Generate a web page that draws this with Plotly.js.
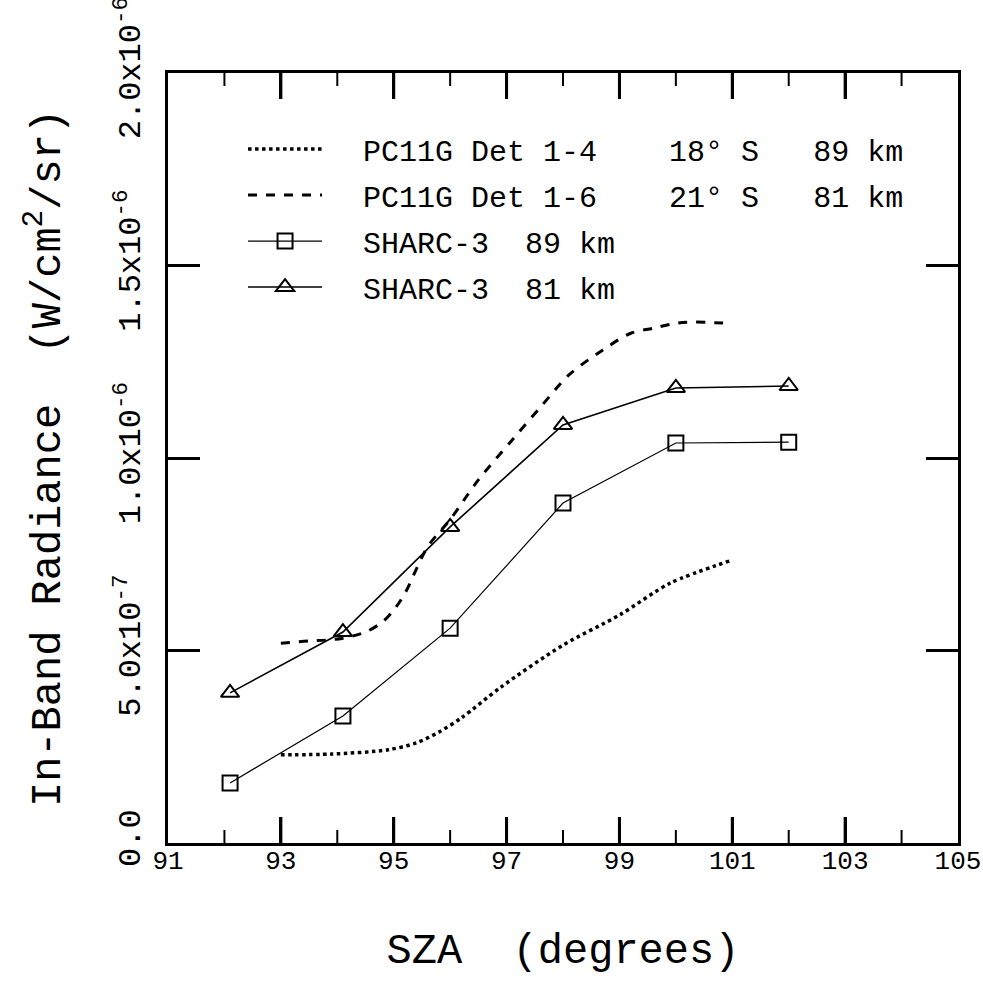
<!DOCTYPE html>
<html>
<head>
<meta charset="utf-8">
<script src="https://cdn.plot.ly/plotly-3.0.1.min.js"></script>
<style>html,body{margin:0;padding:0;background:#fff;}#chart{width:983px;height:1005px;}</style>
</head>
<body>
<div id="chart"></div>
<script>
// ---- data ----
const sharcSza = [92.1, 94.1, 96.0, 98.0, 100.0, 102.0];
const sharc89 = [1.56e-7, 3.30e-7, 5.58e-7, 8.83e-7, 1.039e-6, 1.041e-6];
const sharc81 = [3.90e-7, 5.48e-7, 8.21e-7, 1.086e-6, 1.182e-6, 1.187e-6];

const det14Sza = [93.0, 93.9, 94.9, 95.4, 95.8, 96.2, 96.9, 98.0, 99.0, 99.9, 101.0];
const det14 = [2.29e-7, 2.31e-7, 2.42e-7, 2.60e-7, 2.88e-7, 3.25e-7, 4.05e-7, 5.14e-7, 5.92e-7, 6.75e-7, 7.35e-7];

const det16Sza = [93.0, 93.5, 93.8, 94.1, 94.5, 94.8, 95.0, 95.2, 95.6, 96.0, 96.5, 97.1, 97.6, 98.1, 98.7, 99.2, 99.6, 100.0, 100.3, 100.9];
const det16 = [5.19e-7, 5.25e-7, 5.27e-7, 5.32e-7, 5.48e-7, 5.74e-7, 6.05e-7, 6.49e-7, 7.69e-7, 8.40e-7, 9.43e-7, 1.047e-6, 1.132e-6, 1.215e-6, 1.280e-6, 1.324e-6, 1.337e-6, 1.350e-6, 1.353e-6, 1.350e-6];

const xRange = [91, 105];
const xMajorInner = [93, 95, 97, 99, 101, 103];
const xMinor = [92, 94, 96, 98, 100, 102, 104];
const yTickVals = [0, 5e-7, 1e-6, 1.5e-6, 2e-6];
const yTickText = ["0.0", "5.0x10<sup>-7</sup>", "1.0x10<sup>-6</sup>", "1.5x10<sup>-6</sup>", "2.0x10<sup>-6</sup>"];

const NB = "\u00A0";
const sp = n => NB.repeat(n);
const names = [
  sp(2) + "PC11G" + sp(1) + "Det" + sp(1) + "1-4" + sp(4) + "18°" + sp(1) + "S" + sp(3) + "89" + sp(1) + "km",
  sp(2) + "PC11G" + sp(1) + "Det" + sp(1) + "1-6" + sp(4) + "21°" + sp(1) + "S" + sp(3) + "81" + sp(1) + "km",
  sp(2) + "SHARC-3" + sp(2) + "89" + sp(1) + "km",
  sp(2) + "SHARC-3" + sp(2) + "81" + sp(1) + "km"
];

const FONT = "Liberation Mono, DejaVu Sans Mono, monospace";

const traces = [
  {x: det14Sza, y: det14, name: names[0], mode: "lines", legendgroup: "a",
   line: {color: "#000", width: 3.5, dash: "dot", shape: "spline", smoothing: 0.8}},
  {x: det16Sza, y: det16, name: names[1], mode: "lines", legendgroup: "b",
   line: {color: "#000", width: 3, dash: "dash", shape: "spline", smoothing: 0.9}},
  {x: sharcSza, y: sharc89, name: names[2], mode: "lines+markers", legendgroup: "c",
   line: {color: "#000", width: 1.2},
   marker: {symbol: "square-open", size: 15, color: "#000", line: {width: 2, color: "#000"}}},
  {x: sharcSza, y: sharc81, name: names[3], mode: "lines+markers", legendgroup: "d",
   line: {color: "#000", width: 1.6},
   marker: {symbol: "triangle-up-open", size: 16, color: "#000", line: {width: 2, color: "#000"}}}
];

// x-axis tick marks (inside, bottom and top) as layout shapes
const PLOT_H = 1005 - 73 - 162;
const majorLen = 26 / PLOT_H, minorLen = 13 / PLOT_H;
const tickShapes = [];
function addTick(v, len, w) {
  tickShapes.push({type: "line", xref: "x", yref: "paper", x0: v, x1: v, y0: 0, y1: len, line: {color: "#000", width: w}, layer: "above"});
  tickShapes.push({type: "line", xref: "x", yref: "paper", x0: v, x1: v, y0: 1 - len, y1: 1, line: {color: "#000", width: w}, layer: "above"});
}
xMajorInner.forEach(v => addTick(v, majorLen, 3));
xMinor.forEach(v => addTick(v, minorLen, 2));

const layout = {
  width: 983, height: 1005,
  margin: {l: 168, r: 25, t: 73, b: 162},
  font: {family: FONT, color: "#000", size: 26},
  showlegend: true,
  legend: {x: 0.095, y: 0.935, xanchor: "left", yanchor: "top",
           bgcolor: "rgba(0,0,0,0)", borderwidth: 0,
           font: {family: FONT, size: 30, color: "#000"},
           itemwidth: 74, tracegroupgap: 4},
  shapes: tickShapes,
  xaxis: {
    range: xRange, tickmode: "linear", tick0: 91, dtick: 2,
    ticks: "inside", ticklen: 26, tickwidth: 3, tickcolor: "#000",
    showline: true, linewidth: 3, linecolor: "#000", mirror: "allticks",
    showgrid: false, zeroline: false,
    ticklabelstandoff: -8,
    tickfont: {family: FONT, size: 26, color: "#000"},
    title: {text: "SZA" + sp(2) + "(degrees)", font: {family: FONT, size: 42, color: "#000"}, standoff: 58}
  },
  yaxis: {
    range: [0, 2e-6], tickmode: "array", tickvals: yTickVals, ticktext: yTickText,
    tickangle: -90, ticklabeloverflow: "allow",
    ticks: "inside", ticklen: 32, tickwidth: 3, tickcolor: "#000",
    showline: true, linewidth: 3, linecolor: "#000", mirror: "allticks",
    showgrid: false, zeroline: false,
    ticklabelstandoff: 12,
    tickfont: {family: FONT, size: 32, color: "#000"},
    title: {text: "In-Band" + sp(1) + "Radiance" + sp(2) + "(W/cm<sup>2</sup>/sr)", font: {family: FONT, size: 42, color: "#000"}, standoff: 35}
  }
};

function ensureXTicks() {
  document.querySelectorAll("#chart path.xtick").forEach(p => {
    p.removeAttribute("display");
    p.style.display = "";
    p.style.visibility = "visible";
    p.style.opacity = "1";
    p.style.stroke = "#000";
    p.style.strokeOpacity = "1";
    p.style.strokeWidth = "3px";
  });
}

Plotly.newPlot("chart", traces, layout, {displayModeBar: false, staticPlot: true})
  .then(ensureXTicks)
  .catch(ensureXTicks);
setTimeout(ensureXTicks, 50);
setTimeout(ensureXTicks, 300);
</script>
</body>
</html>
